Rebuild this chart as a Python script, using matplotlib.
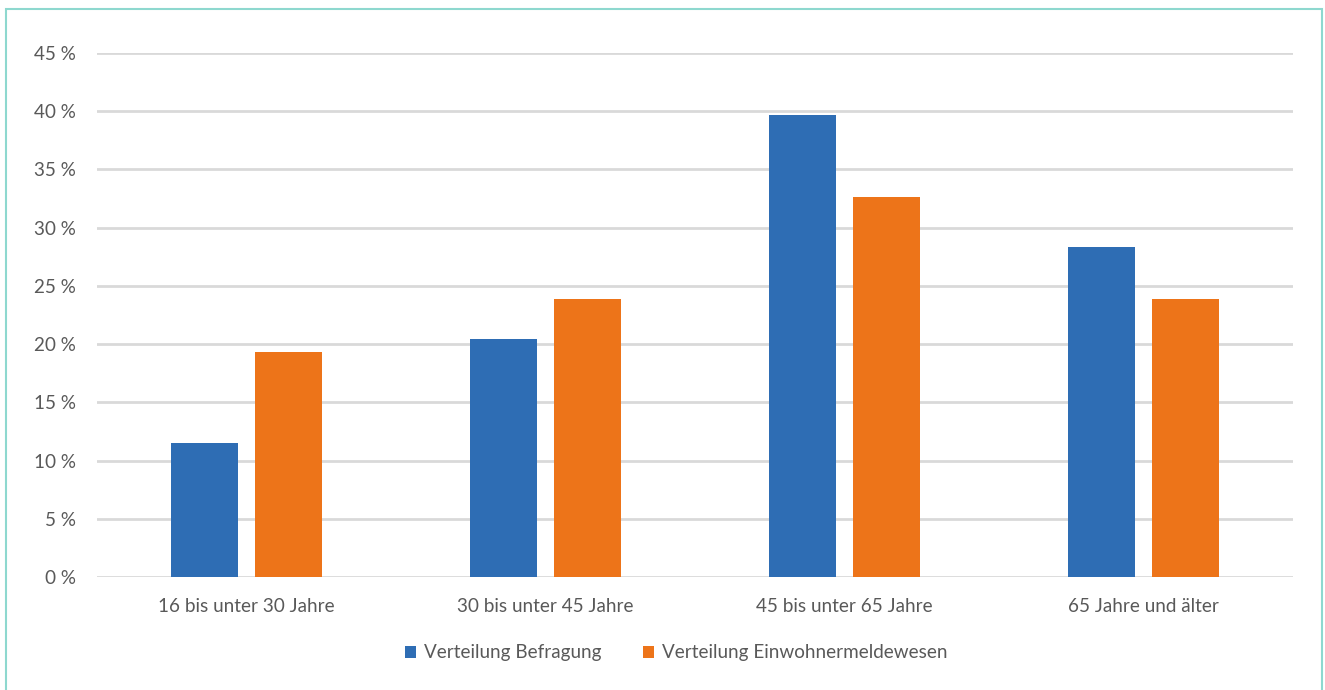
import matplotlib
matplotlib.use("Agg")
import matplotlib.pyplot as plt
from matplotlib.patches import Rectangle
import numpy as np

plt.rcParams['font.family'] = ['Lato', 'DejaVu Sans']

categories = ["16 bis unter 30 Jahre", "30 bis unter 45 Jahre",
              "45 bis unter 65 Jahre", "65 Jahre und älter"]
befragung = [11.5, 20.4, 39.7, 28.3]
einwohnermeldewesen = [19.3, 23.9, 32.6, 23.9]
series_names = ["Verteilung Befragung", "Verteilung Einwohnermeldewesen"]
y_ticks = [0, 5, 10, 15, 20, 25, 30, 35, 40, 45]

blue = "#2E6DB4"
orange = "#ED7419"
text_color = "#595959"
grid_color = "#D9D9D9"

fig = plt.figure(figsize=(13.25, 6.9), dpi=100)
ax = fig.add_axes([97 / 1325, 1 - 577 / 690, (1293 - 97) / 1325, (577 - 53) / 690])

x = np.arange(len(categories))
width = 0.224
offset = 0.14
ax.bar(x - offset, befragung, width, color=blue, label=series_names[0], zorder=3)
ax.bar(x + offset, einwohnermeldewesen, width, color=orange, label=series_names[1], zorder=3)

ax.set_xlim(-0.5, len(categories) - 0.5)
ax.set_ylim(0, 45)
ax.set_yticks(y_ticks)
ax.set_yticklabels([f"{v}\u202f%" for v in y_ticks])
ax.set_xticks(x)
ax.set_xticklabels(categories)
ax.tick_params(axis='both', length=0, colors=text_color, labelsize=13.6)
ax.tick_params(axis='y', pad=15)
ax.tick_params(axis='x', pad=15)
ax.yaxis.grid(True, color=grid_color, linewidth=2, zorder=0)
ax.set_axisbelow(True)
for s in ax.spines.values():
    s.set_visible(False)

leg = ax.legend(loc='center', bbox_to_anchor=(0.484, -0.145), ncol=2, frameon=False,
                fontsize=13.6, handlelength=0.6, handleheight=0.6, handletextpad=0.4,
                columnspacing=2.2)
for t in leg.get_texts():
    t.set_color(text_color)

# outer frame around the chart
fig.patches.append(Rectangle((6 / 1325, -0.05), (1322 - 6) / 1325, 1.05 - 9 / 690,
                             transform=fig.transFigure, fill=False,
                             edgecolor="#8ED8CF", linewidth=1.5))

fig.savefig("out.png", dpi=100, facecolor="white")
